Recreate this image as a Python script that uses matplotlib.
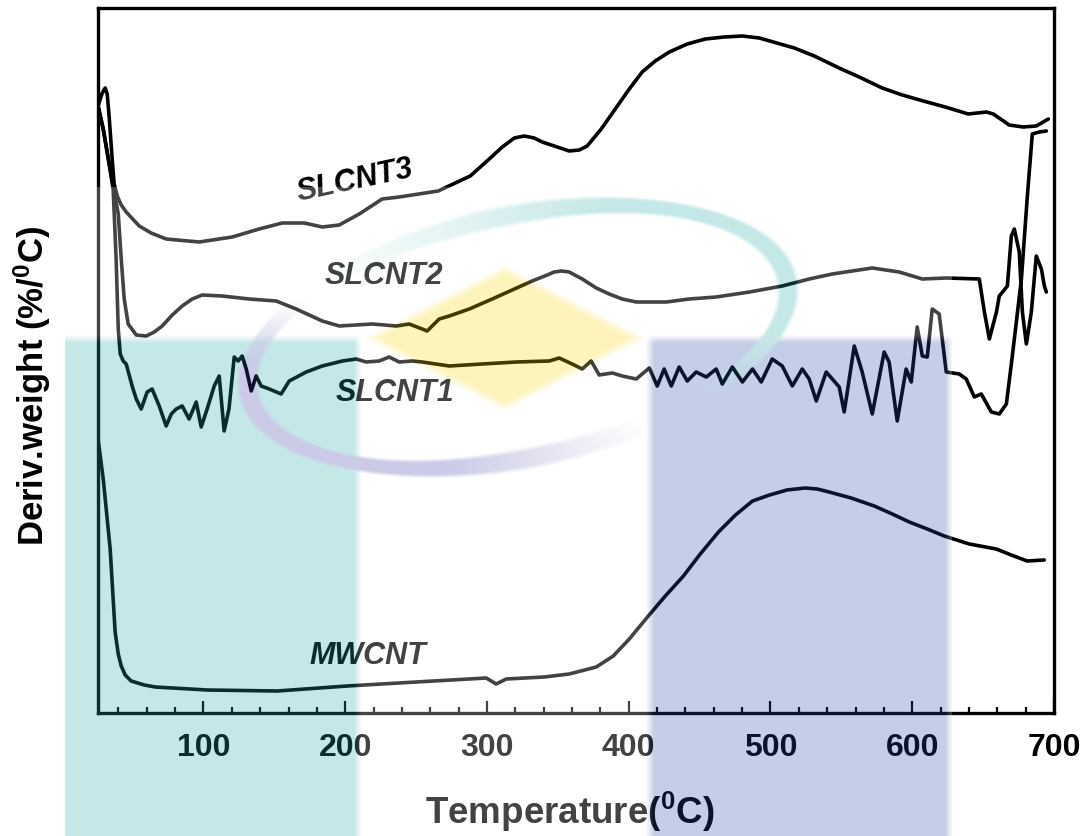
import numpy as np
import matplotlib
matplotlib.use("Agg")
import matplotlib.pyplot as plt
from matplotlib.ticker import MultipleLocator

# ---------------- data: temperature (deg C) and DTG signal (arb. units, offset) ----------------
mwcnt_t = [25.0, 27.2, 29.3, 32.1, 34.2, 37.7, 39.9, 42.0, 44.8, 49.0, 58.2, 66.0, 102.6,
           152.0, 201.4, 250.0, 299.5, 306.5, 313.6, 340.4, 358.0, 377.1, 389.1, 400.4,
           413.8, 425.8, 438.6, 449.9, 463.3, 475.3, 487.3, 499.3, 511.6, 524.5, 532.9,
           541.4, 556.9, 573.2, 585.9, 597.9, 610.6, 622.6, 640.2, 659.3, 669.8, 681.1, 693.1]
mwcnt_y = [2.81, 2.57, 2.34, 1.94, 1.64, 0.81, 0.59, 0.47, 0.38, 0.32, 0.28, 0.26, 0.23,
           0.22, 0.27, 0.31, 0.35, 0.29, 0.34, 0.36, 0.39, 0.46, 0.57, 0.74,
           0.97, 1.17, 1.37, 1.58, 1.81, 1.98, 2.12, 2.18, 2.23, 2.25, 2.24,
           2.21, 2.15, 2.07, 1.99, 1.91, 1.84, 1.77, 1.69, 1.64, 1.58, 1.52, 1.53]

slcnt1_t = [25.0, 29.3, 33.5, 36.3, 38.4, 39.9, 41.3, 43.4, 45.5, 49.7, 52.6, 56.1, 60.3,
            63.8, 68.8, 73.7, 77.3, 80.8, 85.0, 89.9, 94.9, 98.4, 102.6, 107.6, 111.1,
            114.6, 118.0, 121.7, 124.5, 127.3, 130.2, 133.7, 137.2, 140.7, 146.4, 154.8,
            160.5, 172.5, 183.8, 198.0, 207.8, 214.8, 224.0, 231.0, 238.1, 247.3, 254.3,
            273.4, 296.6, 320.6, 343.9, 351.0, 360.1, 367.2, 373.5, 379.2, 388.4, 395.4,
            405.3, 414.5, 420.1, 425.0, 430.0, 435.6, 441.3, 447.6, 454.7, 461.7, 466.0,
            473.1, 480.2, 487.3, 493.5, 501.2, 508.3, 515.4, 522.4, 527.3, 532.3, 539.3,
            548.5, 552.0, 559.1, 564.7, 571.8, 580.2, 583.7, 589.4, 595.7, 599.3, 603.5,
            607.1, 610.6, 614.1, 619.0, 624.0, 633.2, 638.1, 643.8, 648.7, 655.8, 661.4,
            666.4, 670.6, 677.0, 681.2, 684.7, 689.6, 694.6]
slcnt1_y = [6.11, 5.84, 5.49, 5.24, 4.54, 3.84, 3.59, 3.52, 3.49, 3.27, 3.14, 3.04, 3.21,
            3.24, 3.07, 2.87, 2.99, 3.04, 3.07, 2.94, 3.11, 2.86, 3.04, 3.27, 3.37,
            2.82, 3.04, 3.56, 3.52, 3.57, 3.44, 3.22, 3.37, 3.27, 3.24, 3.19,
            3.32, 3.41, 3.47, 3.52, 3.54, 3.51, 3.52, 3.56, 3.51, 3.52, 3.51,
            3.47, 3.49, 3.51, 3.52, 3.55, 3.49, 3.44, 3.52, 3.38, 3.40, 3.37,
            3.34, 3.45, 3.27, 3.44, 3.27, 3.46, 3.32, 3.41, 3.36, 3.44, 3.29,
            3.46, 3.31, 3.44, 3.31, 3.54, 3.47, 3.27, 3.44, 3.34, 3.12, 3.41,
            3.26, 3.01, 3.67, 3.41, 2.99, 3.61, 3.51, 2.92, 3.44, 3.31, 3.86,
            3.57, 3.56, 4.04, 3.99, 3.41, 3.39, 3.34, 3.16, 3.19, 3.01, 2.99,
            3.09, 3.57, 4.34, 5.17, 5.79, 5.81, 5.82]

slcnt2_t = [25.0, 29.3, 33.5, 37.0, 39.9, 42.0, 44.1, 46.9, 52.6, 59.6, 65.3, 70.9, 78.0,
            85.0, 92.1, 99.1, 113.2, 132.3, 151.3, 165.4, 183.8, 195.8, 219.0, 236.0,
            245.1, 254.3, 257.8, 266.3, 273.4, 287.5, 303.7, 317.8, 331.9, 342.5, 347.4,
            352.4, 358.0, 367.2, 377.1, 386.2, 395.4, 405.3, 426.5, 442.7, 461.7, 485.2,
            508.3, 527.3, 543.6, 571.8, 590.8, 607.1, 624.0, 647.3, 650.9, 654.4, 659.4,
            661.4, 667.1, 669.9, 672.0, 675.5, 677.7, 680.5, 684.0, 687.5, 691.1, 693.2, 694.6]
slcnt2_y = [6.11, 5.84, 5.49, 5.22, 4.99, 4.54, 4.14, 3.89, 3.78, 3.77, 3.81, 3.87, 3.98,
            4.07, 4.14, 4.18, 4.17, 4.14, 4.12, 4.04, 3.92, 3.87, 3.89, 3.87,
            3.89, 3.84, 3.82, 3.94, 3.97, 4.04, 4.14, 4.23, 4.32, 4.38, 4.41,
            4.42, 4.41, 4.34, 4.25, 4.19, 4.14, 4.11, 4.11, 4.14, 4.16, 4.21,
            4.27, 4.34, 4.39, 4.45, 4.41, 4.34, 4.35, 4.34, 4.01, 3.74, 4.01,
            4.17, 4.27, 4.77, 4.84, 4.61, 4.01, 3.69, 4.01, 4.57, 4.44, 4.27, 4.21]

slcnt3_t = [25.0, 26.5, 28.6, 30.7, 32.1, 33.5, 35.6, 37.0, 39.2, 42.0, 45.5, 54.7, 63.1,
            73.7, 97.0, 120.3, 139.3, 155.6, 171.1, 183.8, 195.8, 209.9, 226.1, 238.1,
            265.6, 288.2, 301.6, 310.8, 319.3, 326.3, 333.3, 339.0, 358.0, 365.1, 370.7,
            380.6, 390.5, 400.4, 409.5, 418.7, 428.6, 441.3, 454.0, 467.4, 480.1, 492.1,
            502.0, 516.8, 530.9, 549.9, 562.6, 578.8, 593.0, 607.8, 623.3, 639.5, 652.3,
            657.2, 668.4, 678.3, 687.5, 696.0]
slcnt3_y = [6.04, 6.11, 6.20, 6.25, 6.19, 5.96, 5.54, 5.29, 5.17, 5.08, 5.01, 4.87, 4.80,
            4.74, 4.71, 4.76, 4.84, 4.90, 4.90, 4.86, 4.88, 4.99, 5.14, 5.16,
            5.22, 5.37, 5.54, 5.66, 5.75, 5.77, 5.75, 5.71, 5.62, 5.63, 5.67,
            5.84, 6.04, 6.24, 6.41, 6.52, 6.61, 6.69, 6.74, 6.76, 6.77, 6.75,
            6.71, 6.65, 6.57, 6.44, 6.36, 6.25, 6.18, 6.12, 6.06, 5.99, 6.01,
            5.99, 5.88, 5.86, 5.87, 5.94]

series = [(mwcnt_t, mwcnt_y), (slcnt1_t, slcnt1_y), (slcnt2_t, slcnt2_y), (slcnt3_t, slcnt3_y)]

# curve name, label anchor (T, signal), rotation
labels = ["MWCNT", "SLCNT1", "SLCNT2", "SLCNT3"]
label_t = [216.0, 235.0, 227.5, 207.0]
label_y = [0.58, 3.21, 4.38, 5.33]
label_rot = [0, 0, 0, 12]

x_major = [100, 200, 300, 400, 500, 600, 700]

# ---------------- style ----------------
plt.rcParams["font.family"] = ["Liberation Sans", "DejaVu Sans"]
plt.rcParams["font.weight"] = "bold"
plt.rcParams["mathtext.fontset"] = "custom"
plt.rcParams["mathtext.rm"] = "Liberation Sans:bold"
plt.rcParams["mathtext.bf"] = "Liberation Sans:bold"
plt.rcParams["mathtext.it"] = "Liberation Sans:bold:italic"

W, H = 1090, 837
fig = plt.figure(figsize=(W / 100, H / 100), dpi=100)
fig.patch.set_facecolor("white")

ax_l, ax_r, ax_t, ax_b = 97.7, 1054.0, 9.3, 714.0
ax = fig.add_axes([ax_l / W, 1 - ax_b / H, (ax_r - ax_l) / W, (ax_b - ax_t) / H])

for t, y in series:
    ax.plot(t, y, color="black", lw=2.6, solid_joinstyle="round", solid_capstyle="round")

for name, lt, ly, rot in zip(labels, label_t, label_y, label_rot):
    ax.text(lt, ly, name, fontsize=22, fontweight="bold", fontstyle="italic",
            ha="center", va="center", rotation=rot, color="black")

ax.set_xlim(25.4, 700)
ax.set_ylim(0, 7.047)
ax.set_xticks(x_major)
ax.set_xticklabels([str(v) for v in x_major])
ax.xaxis.set_minor_locator(MultipleLocator(20))
ax.set_yticks([])
ax.tick_params(axis="x", which="major", direction="in", length=9, width=1.6,
               labelsize=23, pad=13.5, top=False)
ax.tick_params(axis="x", which="minor", direction="in", length=4, width=1.6, top=False)
for lab in ax.get_xticklabels():
    lab.set_fontweight("bold")
for sp in ax.spines.values():
    sp.set_linewidth(2.4)

ax.set_xlabel(r"Temperature($^0$C)", fontsize=26.5, fontweight="bold")
ax.xaxis.set_label_coords(0.494, -0.107)
ax.set_ylabel(r"Deriv.weight (%/$^0$C)", fontsize=25, fontweight="bold")
ax.yaxis.set_label_coords(-0.047, 0.465)

# ---------------- translucent emblem laid over the plot ----------------
yy, xx = np.mgrid[0:H, 0:W] + 0.5
col = np.ones((H, W, 3))
alpha = np.zeros((H, W))


def ramp_box(x0, x1, y0, y1, edge):
    wx = np.clip((xx - x0) / edge, 0, 1) * np.clip((x1 - xx) / edge, 0, 1)
    wy = np.clip((yy - y0) / edge, 0, 1) * np.clip((y1 + 50 - yy) / edge, 0, 1)
    return wx * wy


def paint(weight, rgb):
    c = np.array(rgb) / 255.0
    w = weight[..., None]
    col[:] = (1 - w) * col + w * c


teal = (37, 170, 166)
slate = (37, 74, 167)
lav = (60, 62, 165)
yellow = (250, 215, 0)

# white haze over the lower middle part
haze = (xx >= 65) & (xx <= 952) & (yy >= 188)
alpha[haze] = 0.27

# two coloured blocks
paint(ramp_box(58, 362, 336, H, 8), teal)
paint(ramp_box(646, 953, 336, H, 8), slate)

# yellow diamond
cxd, cyd, hxd, hyd = 505.0, 339.0, 143.0, 74.0
dd = np.abs(xx - cxd) / hxd + np.abs(yy - cyd) / hyd
paint(np.clip((1.0 - dd) / 0.14, 0, 1), yellow)

# tilted ring (teal upper-right half, lavender lower-left half)
cx, cy, a, b, phi = 518.0, 338.0, 275.0, 121.0, np.deg2rad(12.0)
dx = xx - cx
dy = cy - yy
xp = dx * np.cos(phi) + dy * np.sin(phi)
yp = -dx * np.sin(phi) + dy * np.cos(phi)
r = np.sqrt((xp / a) ** 2 + (yp / b) ** 2)
th = np.degrees(np.arctan2(yp / b, xp / a)) % 360
rho = np.sqrt((a * np.cos(np.radians(th))) ** 2 + (b * np.sin(np.radians(th))) ** 2)
dist = np.abs((r - 1.0) * rho)
band = np.clip((12.0 - dist) / 5.0, 0, 1)

tht = (th + 60) % 360  # teal arc spans roughly -55 .. 130 deg
w_teal = np.interp(tht, [0, 8, 35, 125, 160, 190, 360], [0, 0, 1, 1, 0.45, 0, 0])
w_lav = np.interp(th, [0, 138, 168, 250, 292, 360], [0, 0, 1, 1, 0, 0])
paint(band * w_teal, teal)
paint(band * w_lav, lav)

overlay = np.dstack([col, alpha])
oax = fig.add_axes([0, 0, 1, 1], zorder=10)
oax.imshow(overlay, extent=(0, W, H, 0), interpolation="nearest", aspect="auto")
oax.set_xlim(0, W)
oax.set_ylim(H, 0)
oax.axis("off")

fig.savefig("out.png", dpi=100)
